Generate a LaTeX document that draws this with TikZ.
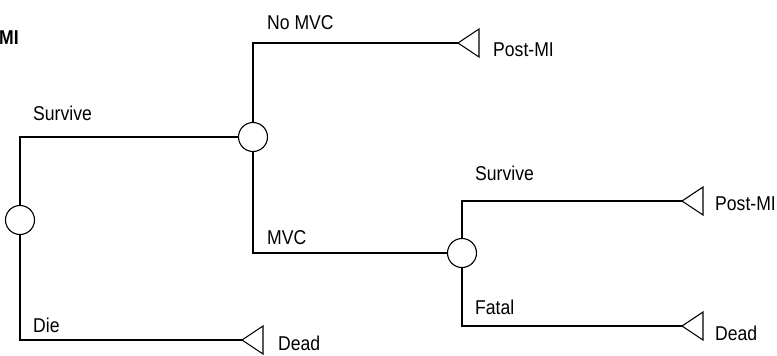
\documentclass[tikz,border=0pt]{standalone}
\usepackage{fontspec}
\setmainfont{Liberation Sans}[FakeStretch=0.88]
\begin{document}
\begin{tikzpicture}[x=1pt,y=-1pt,
  chance/.style={draw,circle,minimum size=29pt,inner sep=0pt,line width=1.1pt},
  conn/.style={line width=1.1pt},
  term/.style={line width=1.1pt},
  lbl/.style={anchor=base west,inner sep=0pt,font=\fontsize{20}{24}\selectfont}]
\useasboundingbox (0,0) rectangle (777,356);
% chance nodes
\node[chance] (c1) at (20,220) {};
\node[chance] (c2) at (253,137) {};
\node[chance] (c3) at (462,253) {};
% terminal tips
\coordinate (t1) at (458,43);
\coordinate (t2) at (682,201);
\coordinate (t3) at (682,326);
\coordinate (t4) at (242,340);
\foreach \t in {t1,t2,t3,t4}{
  \draw[term,line join=miter] (\t) -- ++(21,-14) -- ++(0,28) -- cycle;
}
% connectors
\draw[conn] (c1.north) |- (c2.west);
\draw[conn] (c1.south) |- (t4);
\draw[conn] (c2.north) |- (t1);
\draw[conn] (c2.south) |- (c3.west);
\draw[conn] (c3.north) |- (t2);
\draw[conn] (c3.south) |- (t3);
% labels
\node[lbl,font=\fontsize{20}{24}\selectfont\bfseries] (lmi) at (-1,44) {MI};
\node[lbl] (ls1) at (33,120) {Survive};
\node[lbl] (ldie) at (33,332) {Die};
\node[lbl] (lnomvc) at (267,30) {No MVC};
\node[lbl] (lmvc) at (267,244) {MVC};
\node[lbl] (lp1) at (493,56) {Post-MI};
\node[lbl] (ls2) at (475,180) {Survive};
\node[lbl] (lfat) at (475,314) {Fatal};
\node[lbl] (lp2) at (715,210) {Post-MI};
\node[lbl] (ld2) at (715,340) {Dead};
\node[lbl] (ld1) at (278,350) {Dead};
\end{tikzpicture}
\end{document}
